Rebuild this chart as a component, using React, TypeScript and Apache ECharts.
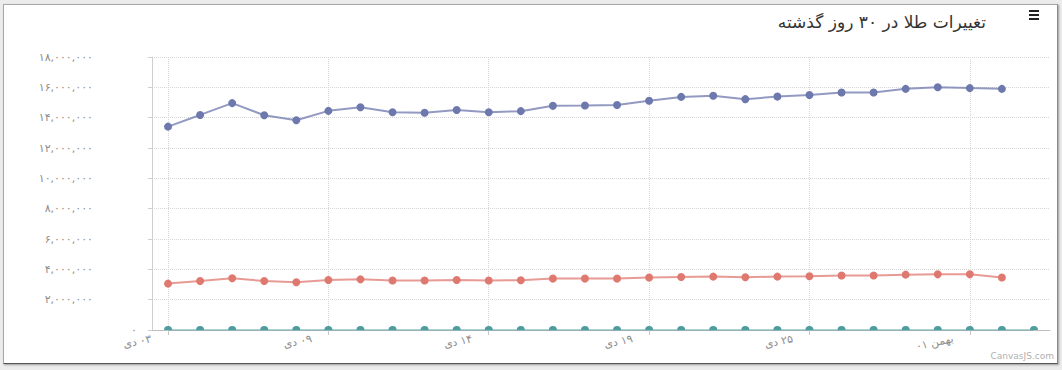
import React, { useEffect, useRef } from "react";
import * as echarts from "echarts";

// Dates (Persian calendar), one per data point
const categories = [
  "۰۳ دی", "۰۴ دی", "۰۵ دی", "۰۶ دی", "۰۸ دی", "۰۹ دی", "۱۰ دی", "۱۱ دی", "۱۲ دی", "۱۳ دی",
  "۱۴ دی", "۱۵ دی", "۱۶ دی", "۱۷ دی", "۱۸ دی", "۱۹ دی", "۲۰ دی", "۲۲ دی", "۲۳ دی", "۲۴ دی",
  "۲۵ دی", "۲۶ دی", "۲۷ دی", "۲۹ دی", "۳۰ دی", "۰۱ بهمن", "۰۲ بهمن", "۰۳ بهمن",
];

const coinValues = [
  13410000, 14180000, 14960000, 14160000, 13830000, 14450000, 14690000, 14360000, 14320000, 14510000,
  14360000, 14430000, 14780000, 14800000, 14840000, 15110000, 15370000, 15440000, 15220000, 15390000,
  15490000, 15660000, 15660000, 15900000, 16010000, 15950000, 15900000,
];

const goldValues = [
  3060000, 3230000, 3410000, 3230000, 3150000, 3300000, 3340000, 3260000, 3260000, 3300000,
  3260000, 3280000, 3390000, 3390000, 3390000, 3460000, 3500000, 3520000, 3480000, 3520000,
  3540000, 3590000, 3590000, 3650000, 3670000, 3670000, 3460000,
];

// Ounce price: too small to read on this scale, estimated
const ounceValues = [
  1880, 1880, 1880, 1880, 1880, 1880, 1880, 1880, 1880, 1880,
  1880, 1880, 1880, 1880, 1880, 1880, 1880, 1880, 1880, 1880,
  1880, 1880, 1880, 1880, 1880, 1880, 1880, 1880,
];

const yTicks = { min: 0, max: 18000000, interval: 2000000 };

const title = "تغییرات طلا در ۳۰ روز گذشته";

const faDigits = "۰۱۲۳۴۵۶۷۸۹";
function toFa(s: string): string {
  return s.replace(/[0-9]/g, (d) => faDigits[Number(d)]);
}
function fmtNum(v: number): string {
  return toFa(String(Math.round(v)).replace(/\B(?=(\d{3})+(?!\d))/g, ","));
}
const LRM = "\u200E";
function fmtDate(label: string): string {
  const [day, month] = label.split(" ");
  if (month === "دی") return LRM + "دی" + LRM + " " + day;
  return LRM + day + " " + month;
}

export default function App() {
  const ref = useRef<HTMLDivElement>(null);
  useEffect(() => {
    if (!ref.current) return;
    const chart = echarts.init(ref.current, undefined, { renderer: "svg" });
    const labelColor = "#8c8c8c";
    const font = "DejaVu Sans";
    chart.setOption({
      animation: false,
      title: {
        text: title,
        right: 71,
        top: 8,
        textStyle: { fontSize: 17, color: "#333", fontWeight: "normal", fontFamily: font },
      },
      grid: { left: 152, right: 12, top: 57, bottom: 40, containLabel: false, outerBoundsMode: "none" },
      xAxis: {
        type: "category",
        data: categories,
        boundaryGap: true,
        axisLine: { show: true, lineStyle: { color: "#bdbdbd", width: 1 } },
        axisTick: { show: true, interval: 4, alignWithLabel: true, length: 5, lineStyle: { color: "#c8c8c8" } },
        axisLabel: {
          interval: 4,
          rotate: 12,
          margin: 5,
          padding: [0, 17, 0, 0],
          color: labelColor,
          fontSize: 11,
          fontFamily: font,
          formatter: (v: string) => fmtDate(v),
        },
        splitLine: {
          show: true,
          interval: 4,
          alignWithLabel: true,
          lineStyle: { color: "#d6d6d6", type: "dotted", width: 1 },
        },
      },
      yAxis: [
        {
          type: "value",
          min: yTicks.min,
          max: yTicks.max,
          interval: yTicks.interval,
          axisLine: { show: true, lineStyle: { color: "#cfcfcf", width: 1 } },
          axisTick: { show: true, length: 4, lineStyle: { color: "#cfcfcf" } },
          axisLabel: {
            margin: 59,
            color: labelColor,
            fontSize: 11,
            fontFamily: font,
            formatter: (v: number) => (v === 0 ? "" : fmtNum(v)),
          },
          splitLine: { show: true, lineStyle: { color: "#d6d6d6", type: "dotted", width: 1 } },
        },
        {
          type: "value",
          position: "left",
          min: yTicks.min,
          max: yTicks.max,
          interval: yTicks.interval,
          axisLine: { show: false },
          axisTick: { show: false },
          splitLine: { show: false },
          axisLabel: {
            margin: 15,
            color: labelColor,
            fontSize: 11,
            fontFamily: font,
            formatter: (v: number) => (v === 0 ? fmtNum(v) : ""),
          },
        },
      ],
      series: [
        {
          name: "سکه",
          type: "line",
          data: coinValues,
          symbol: "circle",
          symbolSize: 8,
          itemStyle: { color: "#6D78AD" },
          lineStyle: { color: "#6D78AD", width: 2, opacity: 0.75 },
        },
        {
          name: "طلا",
          type: "line",
          data: goldValues,
          symbol: "circle",
          symbolSize: 8,
          itemStyle: { color: "#DF7970" },
          lineStyle: { color: "#DF7970", width: 2, opacity: 0.75 },
        },
        {
          name: "انس",
          type: "line",
          data: ounceValues,
          symbol: "path://M0,10A10,10,0,0,1,20,10Z",
          symbolSize: [8, 4],
          symbolOffset: [0, -2],
          itemStyle: { color: "#4C9CA0" },
          lineStyle: { color: "#4C9CA0", width: 1.5, opacity: 0.6 },
        },
      ],
      graphic: [
        { type: "rect", left: 1029, top: 10, shape: { width: 10, height: 2 }, style: { fill: "#222" } },
        { type: "rect", left: 1029, top: 14, shape: { width: 10, height: 2 }, style: { fill: "#222" } },
        { type: "rect", left: 1029, top: 18, shape: { width: 10, height: 2 }, style: { fill: "#222" } },
        {
          type: "text",
          right: 8,
          top: 351,
          style: { text: "CanvasJS.com", fill: "#b0b0b0", fontSize: 9, fontFamily: font },
        },
      ],
    });
    return () => chart.dispose();
  }, []);

  return (
    <div style={{ position: "absolute", left: 0, top: 0, width: 1062, height: 370, background: "#ececec" }}>
      <div
        style={{
          position: "absolute",
          left: 3,
          top: 4,
          width: 1053,
          height: 358,
          background: "#fff",
          border: "1px solid #a8a8a8",
          borderBottomColor: "#555",
          borderRightColor: "#888",
          boxShadow: "1px 1px 2px rgba(0,0,0,0.35)",
        }}
      />
      <div ref={ref} style={{ position: "absolute", left: 0, top: 0, width: 1062, height: 370 }} />
    </div>
  );
}
